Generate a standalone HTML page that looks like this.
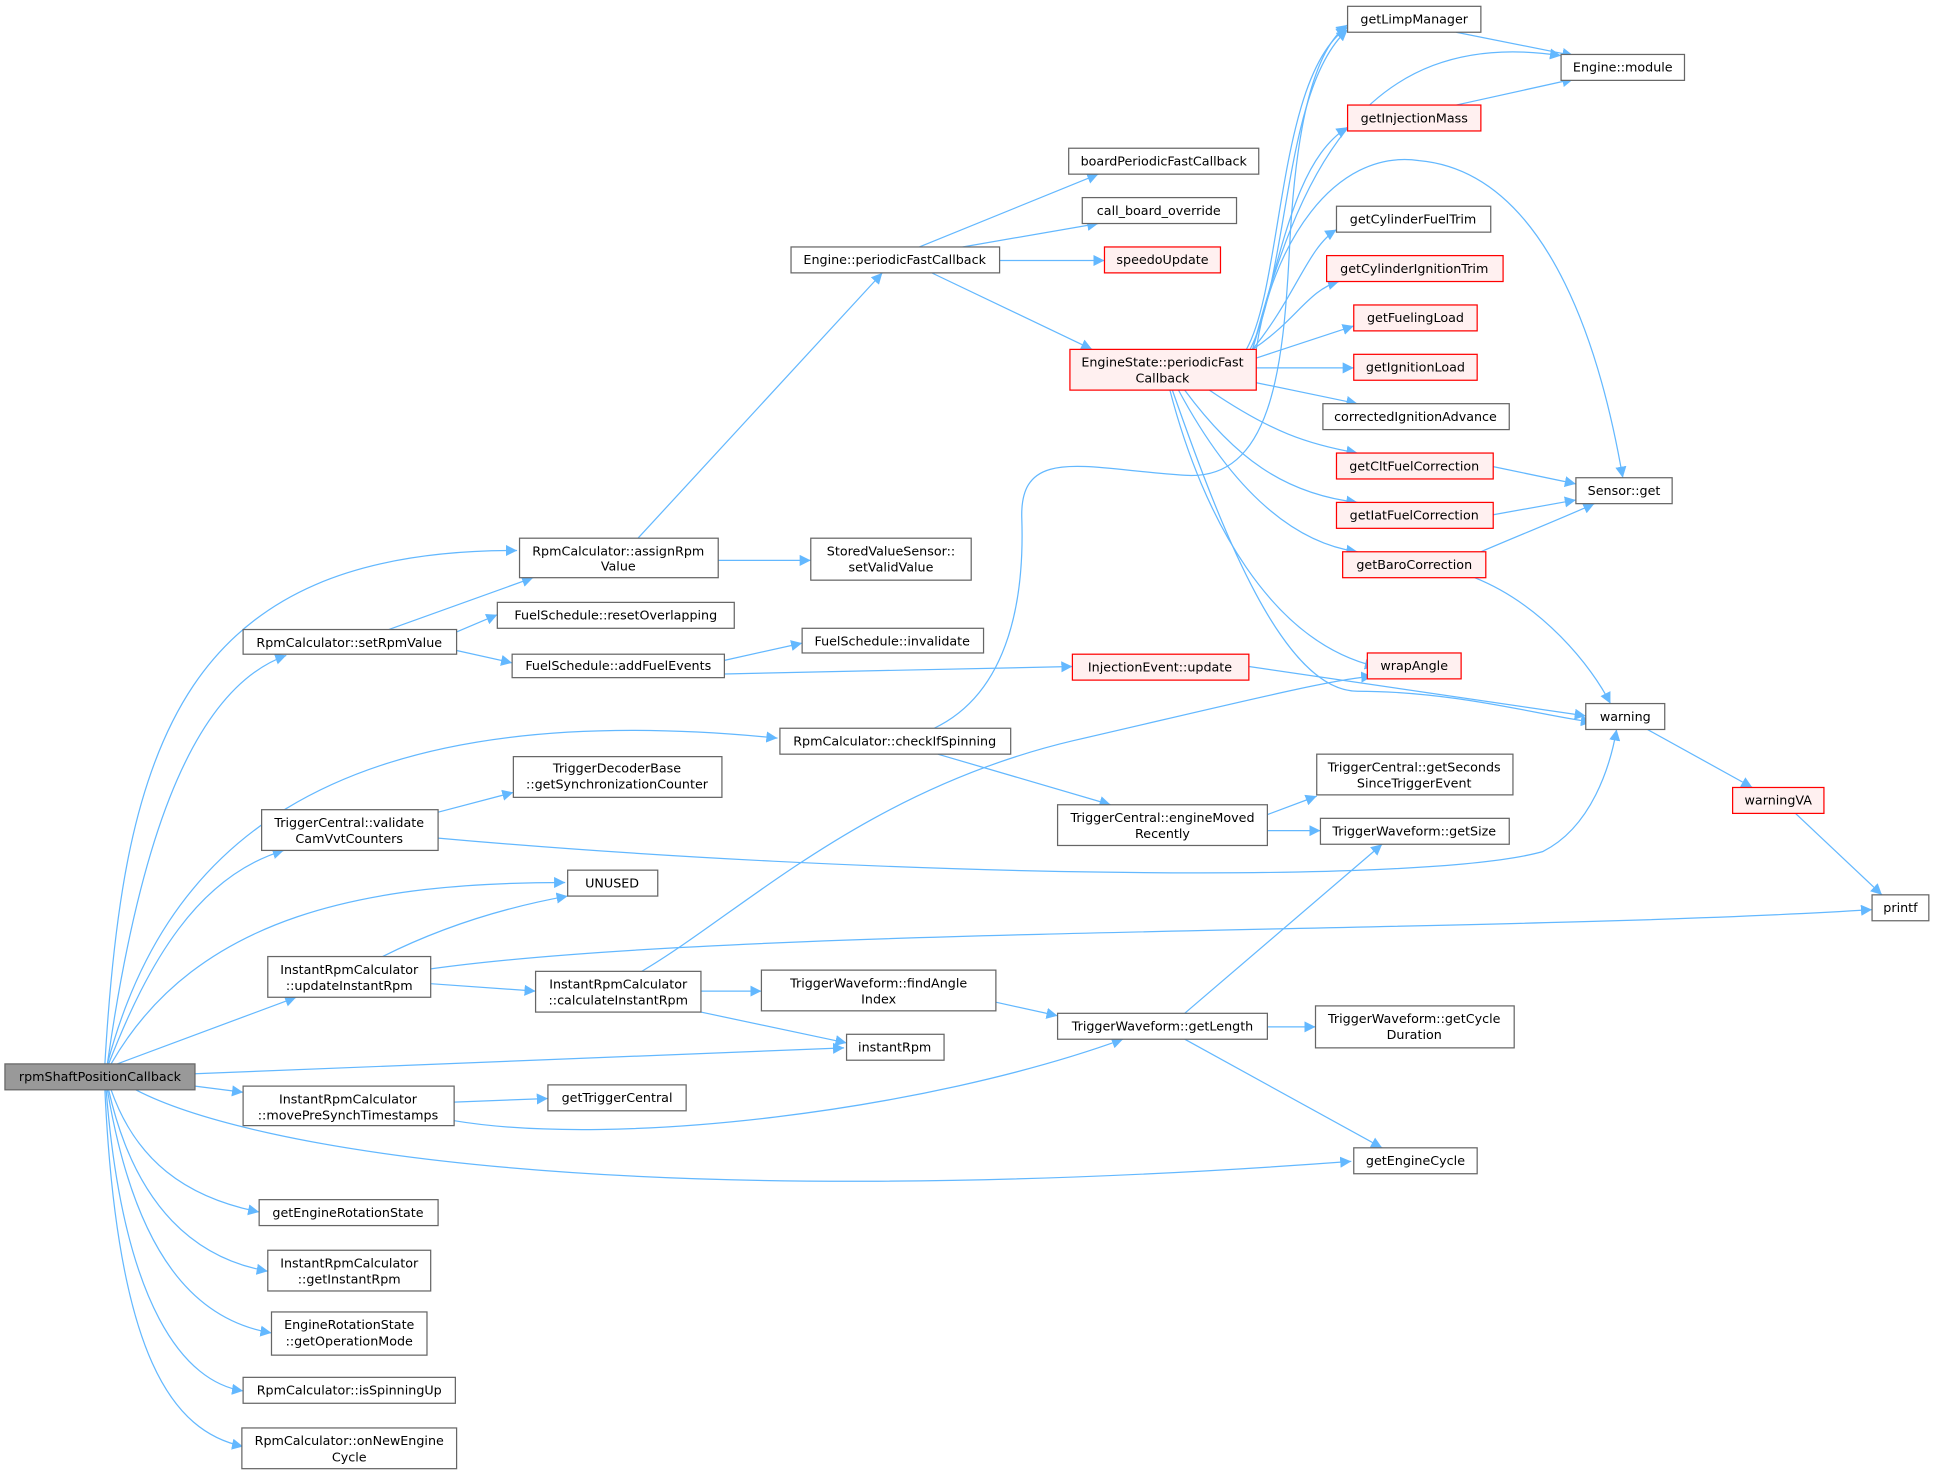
<!DOCTYPE html>
<html><head><meta charset="utf-8"><style>
html,body{margin:0;padding:0;background:#fff;}
svg{display:block;}
text{font-family:"DejaVu Sans","Liberation Sans",sans-serif;font-size:10.3px;fill:#000;text-anchor:middle;}
.n{fill:#fff;stroke:#666;stroke-width:1;}
.r{fill:#fff0f0;stroke:#f00;stroke-width:1;}
.g{fill:#999;stroke:#666;stroke-width:1;}
path.e{fill:none;stroke:#63b8ff;stroke-width:1;marker-end:url(#a);}
</style></head><body>
<svg width="1935" height="1475" viewBox="0 0 1568 1195" xmlns="http://www.w3.org/2000/svg">
<defs><marker id="a" viewBox="0 0 10 10" refX="10" refY="5" markerWidth="9" markerHeight="9" markerUnits="userSpaceOnUse" orient="auto"><path d="M0,0 L10,5 L0,10 z" fill="#63b8ff"/></marker></defs>
<g>
<path class="e" d="M85,862 C100,600 150,445 419,446"/>
<path class="e" d="M87,862 C110,700 150,560 232,531"/>
<path class="e" d="M87,862 C130,700 250,560 630,598"/>
<path class="e" d="M88,862 C120,780 160,710 230,689"/>
<path class="e" d="M90,862 C160,740 300,715 458,715"/>
<path class="e" d="M95,862 L240,808"/>
<path class="e" d="M158,870 L684,849"/>
<path class="e" d="M158,880 L197,885"/>
<path class="e" d="M110,883 C200,930 500,985 1095,941"/>
<path class="e" d="M90,883 C110,940 150,970 210,982"/>
<path class="e" d="M88,883 C110,980 160,1020 217,1030"/>
<path class="e" d="M87,883 C110,1020 160,1070 220,1080"/>
<path class="e" d="M86,883 C100,1060 150,1120 197,1127"/>
<path class="e" d="M85,883 C95,1100 140,1160 197,1172"/>
<path class="e" d="M315,510 L432,468"/>
<path class="e" d="M370,512 L403,498"/>
<path class="e" d="M370,527 L415,537"/>
<path class="e" d="M582,454 L657,454"/>
<path class="e" d="M517,436 L715,221"/>
<path class="e" d="M745,200 L890,141"/>
<path class="e" d="M780,200 L890,181"/>
<path class="e" d="M810,211 L895,211"/>
<path class="e" d="M755,221 L885,283"/>
<path class="e" d="M587,535 L650,521"/>
<path class="e" d="M587,546 L869,540"/>
<path class="e" d="M1012,540 L1285,580"/>
<path class="e" d="M757,590 C820,560 830,480 828,420 C826,360 880,380 960,385 C1030,390 1040,300 1045,200 C1050,100 1065,40 1092,20"/>
<path class="e" d="M760,611 L900,652"/>
<path class="e" d="M1027,660 L1067,645"/>
<path class="e" d="M1027,673 L1070,673"/>
<path class="e" d="M355,658 L416,642"/>
<path class="e" d="M355,679 C700,710 1150,718 1250,690 C1290,670 1305,620 1310,591"/>
<path class="e" d="M310,775 C360,750 410,735 460,726"/>
<path class="e" d="M349,785 C600,750 1200,757 1517,737"/>
<path class="e" d="M349,797 L434,803"/>
<path class="e" d="M520,787 C600,740 700,640 870,600 C1000,570 1080,550 1112,548"/>
<path class="e" d="M568,803 L617,803"/>
<path class="e" d="M568,820 L686,845"/>
<path class="e" d="M807,812 L857,823"/>
<path class="e" d="M368,893 L444,890"/>
<path class="e" d="M368,908 C500,930 750,900 910,842"/>
<path class="e" d="M960,821 L1120,684"/>
<path class="e" d="M1027,832 L1066,832"/>
<path class="e" d="M960,842 L1120,930"/>
<path class="e" d="M1010,283 C1040,230 1035,60 1092,22"/>
<path class="e" d="M1013,283 C1045,220 1040,70 1092,24"/>
<path class="e" d="M1015,283 C1050,150 1100,20 1265,45"/>
<path class="e" d="M1015,283 C1040,200 1050,130 1092,103"/>
<path class="e" d="M1018,283 C1030,200 1080,120 1150,130 C1260,140 1300,300 1315,387"/>
<path class="e" d="M1015,283 C1050,240 1060,200 1083,186"/>
<path class="e" d="M1015,283 C1050,260 1060,235 1085,228"/>
<path class="e" d="M1018,290 L1097,264"/>
<path class="e" d="M1018,298 L1097,298"/>
<path class="e" d="M1018,310 L1100,327"/>
<path class="e" d="M980,316 C1030,350 1060,360 1100,367"/>
<path class="e" d="M960,316 C1000,370 1040,400 1100,407"/>
<path class="e" d="M955,316 C1000,400 1050,440 1100,447"/>
<path class="e" d="M950,316 C990,430 1040,560 1100,560 C1180,560 1250,580 1290,585"/>
<path class="e" d="M948,316 C975,420 1030,520 1115,540"/>
<path class="e" d="M1180,26 L1275,45"/>
<path class="e" d="M1180,85 L1275,64"/>
<path class="e" d="M1210,378 L1277,392"/>
<path class="e" d="M1210,417 L1277,405"/>
<path class="e" d="M1200,447 C1240,430 1270,418 1292,408"/>
<path class="e" d="M1195,468 C1250,490 1290,540 1305,570"/>
<path class="e" d="M1335,591 L1420,638"/>
<path class="e" d="M1455,659 L1525,725"/>
</g>
<g>
<rect class="g" x="4" y="862" width="154" height="21"/><text x="81" y="876">rpmShaftPositionCallback</text>
<rect class="n" x="421" y="436" width="161" height="32"/><text x="501" y="450">RpmCalculator::assignRpm</text><text x="501" y="462">Value</text>
<rect class="n" x="657" y="436" width="130" height="34"/><text x="722" y="450">StoredValueSensor::</text><text x="722" y="463">setValidValue</text>
<rect class="n" x="197" y="510" width="173" height="20"/><text x="283" y="524">RpmCalculator::setRpmValue</text>
<rect class="n" x="403" y="488" width="192" height="21"/><text x="499" y="502">FuelSchedule::resetOverlapping</text>
<rect class="n" x="415" y="530" width="172" height="19"/><text x="501" y="543">FuelSchedule::addFuelEvents</text>
<rect class="n" x="650" y="509" width="147" height="20"/><text x="723" y="523">FuelSchedule::invalidate</text>
<rect class="n" x="632" y="590" width="187" height="21"/><text x="725" y="604">RpmCalculator::checkIfSpinning</text>
<rect class="n" x="416" y="613" width="169" height="33"/><text x="500" y="626">TriggerDecoderBase</text><text x="500" y="639">::getSynchronizationCounter</text>
<rect class="n" x="212" y="656" width="143" height="33"/><text x="283" y="670">TriggerCentral::validate</text><text x="283" y="683">CamVvtCounters</text>
<rect class="n" x="460" y="705" width="73" height="21"/><text x="496" y="719">UNUSED</text>
<rect class="n" x="217" y="775" width="132" height="33"/><text x="283" y="789">InstantRpmCalculator</text><text x="283" y="802">::updateInstantRpm</text>
<rect class="n" x="434" y="787" width="134" height="33"/><text x="501" y="801">InstantRpmCalculator</text><text x="501" y="814">::calculateInstantRpm</text>
<rect class="n" x="617" y="786" width="190" height="33"/><text x="712" y="800">TriggerWaveform::findAngle</text><text x="712" y="813">Index</text>
<rect class="n" x="686" y="838" width="79" height="21"/><text x="725" y="852">instantRpm</text>
<rect class="n" x="197" y="880" width="171" height="32"/><text x="282" y="894">InstantRpmCalculator</text><text x="282" y="907">::movePreSynchTimestamps</text>
<rect class="n" x="444" y="879" width="112" height="21"/><text x="500" y="893">getTriggerCentral</text>
<rect class="n" x="210" y="972" width="145" height="21"/><text x="282" y="986">getEngineRotationState</text>
<rect class="n" x="217" y="1013" width="132" height="33"/><text x="283" y="1027">InstantRpmCalculator</text><text x="283" y="1040">::getInstantRpm</text>
<rect class="n" x="220" y="1063" width="126" height="35"/><text x="283" y="1077">EngineRotationState</text><text x="283" y="1090">::getOperationMode</text>
<rect class="n" x="197" y="1116" width="172" height="21"/><text x="283" y="1130">RpmCalculator::isSpinningUp</text>
<rect class="n" x="196" y="1157" width="174" height="33"/><text x="283" y="1171">RpmCalculator::onNewEngine</text><text x="283" y="1184">Cycle</text>
<rect class="n" x="641" y="200" width="169" height="21"/><text x="725" y="214">Engine::periodicFastCallback</text>
<rect class="n" x="866" y="120" width="154" height="21"/><text x="943" y="134">boardPeriodicFastCallback</text>
<rect class="n" x="877" y="160" width="125" height="21"/><text x="939" y="174">call_board_override</text>
<rect class="r" x="895" y="200" width="94" height="21"/><text x="942" y="214">speedoUpdate</text>
<rect class="r" x="867" y="283" width="151" height="33"/><text x="942" y="297">EngineState::periodicFast</text><text x="942" y="310">Callback</text>
<rect class="n" x="1092" y="5" width="108" height="21"/><text x="1146" y="19">getLimpManager</text>
<rect class="n" x="1265" y="44" width="100" height="21"/><text x="1315" y="58">Engine::module</text>
<rect class="r" x="1092" y="85" width="108" height="21"/><text x="1146" y="99">getInjectionMass</text>
<rect class="n" x="1083" y="167" width="125" height="21"/><text x="1145" y="181">getCylinderFuelTrim</text>
<rect class="r" x="1075" y="207" width="143" height="21"/><text x="1146" y="221">getCylinderIgnitionTrim</text>
<rect class="r" x="1097" y="247" width="100" height="21"/><text x="1147" y="261">getFuelingLoad</text>
<rect class="r" x="1097" y="287" width="100" height="21"/><text x="1147" y="301">getIgnitionLoad</text>
<rect class="n" x="1072" y="327" width="151" height="21"/><text x="1147" y="341">correctedIgnitionAdvance</text>
<rect class="r" x="1083" y="367" width="127" height="21"/><text x="1146" y="381">getCltFuelCorrection</text>
<rect class="n" x="1277" y="387" width="78" height="21"/><text x="1316" y="401">Sensor::get</text>
<rect class="r" x="1083" y="407" width="127" height="21"/><text x="1146" y="421">getIatFuelCorrection</text>
<rect class="r" x="1088" y="447" width="116" height="21"/><text x="1146" y="461">getBaroCorrection</text>
<rect class="r" x="1108" y="529" width="76" height="21"/><text x="1146" y="543">wrapAngle</text>
<rect class="r" x="869" y="530" width="143" height="21"/><text x="940" y="544">InjectionEvent::update</text>
<rect class="n" x="1285" y="570" width="64" height="21"/><text x="1317" y="584">warning</text>
<rect class="r" x="1404" y="638" width="74" height="21"/><text x="1441" y="652">warningVA</text>
<rect class="n" x="1517" y="725" width="46" height="21"/><text x="1540" y="739">printf</text>
<rect class="n" x="1067" y="611" width="159" height="33"/><text x="1146" y="625">TriggerCentral::getSeconds</text><text x="1146" y="638">SinceTriggerEvent</text>
<rect class="n" x="857" y="652" width="170" height="33"/><text x="942" y="666">TriggerCentral::engineMoved</text><text x="942" y="679">Recently</text>
<rect class="n" x="1070" y="663" width="153" height="21"/><text x="1146" y="677">TriggerWaveform::getSize</text>
<rect class="n" x="857" y="821" width="170" height="21"/><text x="942" y="835">TriggerWaveform::getLength</text>
<rect class="n" x="1066" y="815" width="161" height="34"/><text x="1146" y="829">TriggerWaveform::getCycle</text><text x="1146" y="842">Duration</text>
<rect class="n" x="1097" y="930" width="100" height="21"/><text x="1147" y="944">getEngineCycle</text>
</g>
</svg>
</body></html>
